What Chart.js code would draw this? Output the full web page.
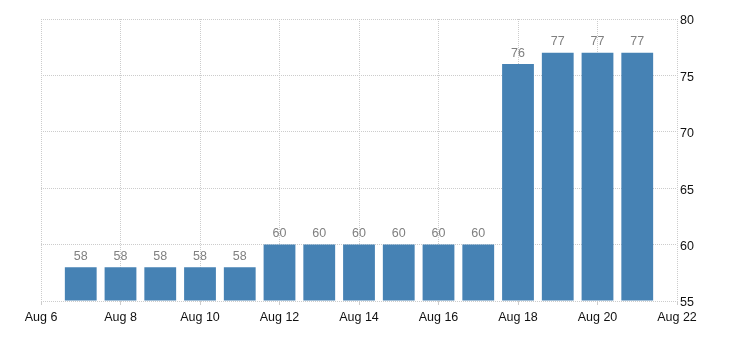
<!DOCTYPE html>
<html>
<head>
<meta charset="utf-8">
<script src="https://cdn.jsdelivr.net/npm/chart.js@4"></script>
<style>
  html, body { margin: 0; padding: 0; background: #fff; }
  #wrap { width: 730px; height: 340px; }
</style>
</head>
<body>
<div id="wrap"><canvas id="barChart" width="730" height="340"></canvas></div>
<script>
// Day of August for each bar and its value
const days = [7, 8, 9, 10, 11, 12, 13, 14, 15, 16, 17, 18, 19, 20, 21];
const values = [58, 58, 58, 58, 58, 60, 60, 60, 60, 60, 60, 76, 77, 77, 77];
const xRange = [6, 22];
const yRange = [55, 80];

const FONT = 'Liberation Sans, Arial, sans-serif';

// Value labels above the bars
const barLabels = {
  id: 'barLabels',
  afterDatasetsDraw(chart) {
    const ctx = chart.ctx;
    const meta = chart.getDatasetMeta(0);
    ctx.save();
    ctx.font = '12.5px ' + FONT;
    ctx.fillStyle = '#808080';
    ctx.textAlign = 'center';
    ctx.textBaseline = 'middle';
    meta.data.forEach((bar, i) => {
      ctx.fillText(values[i], bar.x, bar.y - 11);
    });
    ctx.restore();
  }
};

const ctx = document.getElementById('barChart').getContext('2d');
new Chart(ctx, {
  type: 'bar',
  data: {
    datasets: [{
      data: days.map((d, i) => ({ x: d, y: values[i] })),
      backgroundColor: '#4682b4',
      borderWidth: 0,
      barPercentage: 1,
      categoryPercentage: 0.8,
      base: yRange[0]
    }]
  },
  options: {
    responsive: false,
    animation: false,
    layout: { padding: { left: 41, top: 19, right: 0, bottom: 0 } },
    plugins: { legend: { display: false }, tooltip: { enabled: false } },
    scales: {
      x: {
        type: 'linear',
        min: xRange[0],
        max: xRange[1],
        offset: false,
        afterFit: s => { s.height = 39; },
        ticks: {
          stepSize: 2,
          color: '#111',
          font: { family: FONT, size: 12.5 },
          padding: 5,
          maxRotation: 0,
          callback: v => 'Aug ' + v
        },
        grid: {
          offset: false,
          color: '#cccccc',
          tickColor: '#cccccc',
          tickLength: 4,
          tickBorderDash: []
        },
        border: { display: false, dash: [1, 1] }
      },
      y: {
        position: 'right',
        min: yRange[0],
        max: yRange[1],
        afterFit: s => { s.width = 53; },
        ticks: {
          stepSize: 5,
          color: '#111',
          font: { family: FONT, size: 12.5 },
          padding: 3,
          labelOffset: 2
        },
        grid: { color: '#cccccc', drawTicks: false },
        border: { display: false, dash: [1, 1] }
      }
    }
  },
  plugins: [barLabels]
});
</script>
</body>
</html>
